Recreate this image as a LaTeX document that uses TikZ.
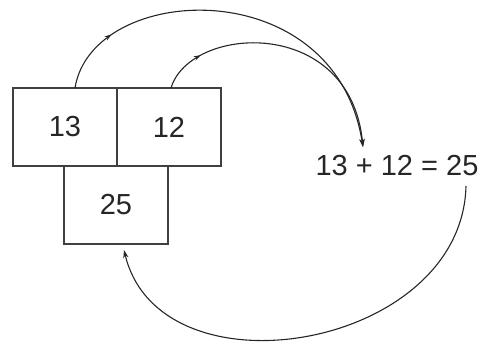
\documentclass[tikz,border=0pt]{standalone}
\usepackage{fontspec}
\setmainfont{Liberation Sans}
\usetikzlibrary{arrows.meta,decorations.markings}
\begin{document}
\begin{tikzpicture}[x=0.5pt,y=-0.5pt,
  cell/.style={draw=black!75,line width=0.6pt,minimum width=52pt,minimum height=39pt,inner sep=0pt,font=\fontsize{14.5}{16}\selectfont,text=black!85},
  eq/.style={inner sep=0pt,font=\fontsize{14.5}{16}\selectfont,text=black!85},
  arc/.style={line width=0.55pt,draw=black!85,-{Stealth[length=4pt,width=2.6pt]}},
  midmark/.style={postaction={decorate},decoration={markings,mark=at position #1 with {\arrow{Stealth[length=3.5pt,width=2.4pt]}}}}]
\useasboundingbox (0,0) rectangle (482,344);
\node[cell] (b13) at (65,127) {13};
\node[cell] (b12) at (169,127) {12};
\node[cell] (b25) at (116,205) {25};
\node[eq] (eq) at (397,166) {13 + 12 = 25};
\coordinate (s1) at (75,88);
\coordinate (s2) at (171,88);
\coordinate (t) at (363,147);
\coordinate (s3) at (466,186);
\coordinate (t3) at (124,250);
\draw[arc,midmark=0.17] (s1) .. controls (92,-18) and (335,-30) .. (t);
\draw[arc,midmark=0.17] (s2) .. controls (190,25) and (350,15) .. (t);
\draw[arc] (s3) .. controls (462,350) and (160,400) .. (t3);
\end{tikzpicture}
\end{document}
